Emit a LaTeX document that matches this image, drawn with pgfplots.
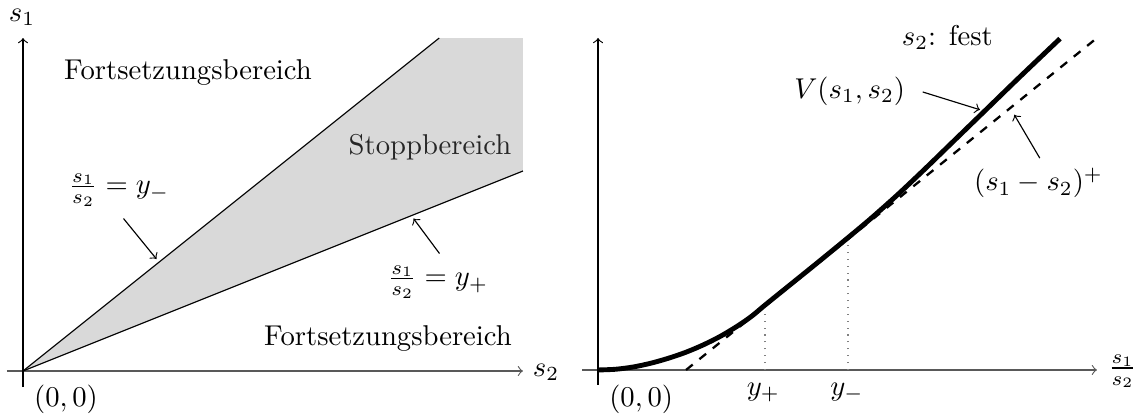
\documentclass[border=0pt]{standalone}
\usepackage{pgfplots}
\pgfplotsset{compat=1.18}

% value function V(s1, s2) for fixed s2, as a function of s1/s2
\pgfplotstableread{
x     V
0     0
0.2   0.010
0.4   0.042
0.6   0.095
0.8   0.165
1.0   0.250
1.2   0.355
1.4   0.480
1.6   0.630
1.75  0.760
1.9   0.915
2.2   1.215
2.5   1.515
2.84  1.860
3.1   2.130
3.4   2.460
3.7   2.810
4.0   3.170
4.4   3.650
4.8   4.130
5.25  4.660
}\valuefn

\begin{document}
\begin{tikzpicture}
\useasboundingbox (0,0) rectangle (396.86pt,-145.55pt);
\pgfplotsset{
  sketch/.style={
    axis lines=middle, scale only axis, clip=false,
    xtick=\empty, ytick=\empty,
    axis line style={->, line width=0.4pt, black},
    every inner x axis line/.append style={black!65},
    anchor=south west,
  }
}

% stopping and continuation regions in the (s2, s1) plane
\begin{axis}[sketch, at={(2.443pt,-135.08pt)}, width=180.10pt, height=121.81pt,
  xmin=-0.32, xmax=10, ymin=-0.32, ymax=6.66]
  \addplot[fill=black!15, draw=none] coordinates {(0,0) (8.325,6.66) (10,6.66) (10,4)} -- cycle;
  \addplot[black, line width=0.4pt] coordinates {(0,0) (8.325,6.66)};
  \addplot[black, line width=0.4pt] coordinates {(0,0) (10,4)};
  \node at (axis cs:-0.02,7.08) {$s_1$};
  \node at (axis cs:10.46,-0.02) {$s_2$};
  \node at (axis cs:0.86,-0.56) {$(0,0)$};
  \node at (axis cs:3.3,5.98) {Fortsetzungsbereich};
  \node[black!85] at (axis cs:8.14,4.48) {Stoppbereich};
  \node at (axis cs:1.92,3.62) {$\frac{s_1}{s_2}=y_-$};
  \draw[->] (axis cs:2.01,3.05) -- (axis cs:2.67,2.24);
  \node at (axis cs:8.3,1.78) {$\frac{s_1}{s_2}=y_+$};
  \draw[->] (axis cs:8.33,2.35) -- (axis cs:7.81,3.05);
  \node at (axis cs:7.3,0.66) {Fortsetzungsbereich};
\end{axis}

% value function against the payoff (s1 - s2)^+
\begin{axis}[sketch, at={(203.21pt,-134.34pt)}, width=179.68pt, height=121.10pt,
  xmin=-0.18, xmax=5.67, ymin=-0.21, ymax=4.67]
  \addplot[gray, dotted] coordinates {(1.898,0) (1.898,0.87)};
  \addplot[gray, dotted] coordinates {(2.84,0) (2.84,1.80)};
  \addplot[black, thick, dashed] coordinates {(1,0) (5.67,4.67)};
  \addplot[black, line width=1.7pt, smooth] table[x=x, y=V] {\valuefn};
  \node at (axis cs:0.49,-0.41) {$(0,0)$};
  \node at (axis cs:1.88,-0.32) {$y_+$};
  \node at (axis cs:2.83,-0.32) {$y_-$};
  \node at (axis cs:5.96,-0.02) {$\frac{s_1}{s_2}$};
  \node at (axis cs:3.97,4.68) {$s_2$: fest};
  \node at (axis cs:2.86,3.92) {$V(s_1,s_2)$};
  \draw[->] (axis cs:3.69,3.91) -- (axis cs:4.34,3.66);
  \node at (axis cs:5.006,2.63) {$(s_1-s_2)^+$};
  \draw[->] (axis cs:5.02,2.98) -- (axis cs:4.73,3.59);
\end{axis}
\end{tikzpicture}
\end{document}
